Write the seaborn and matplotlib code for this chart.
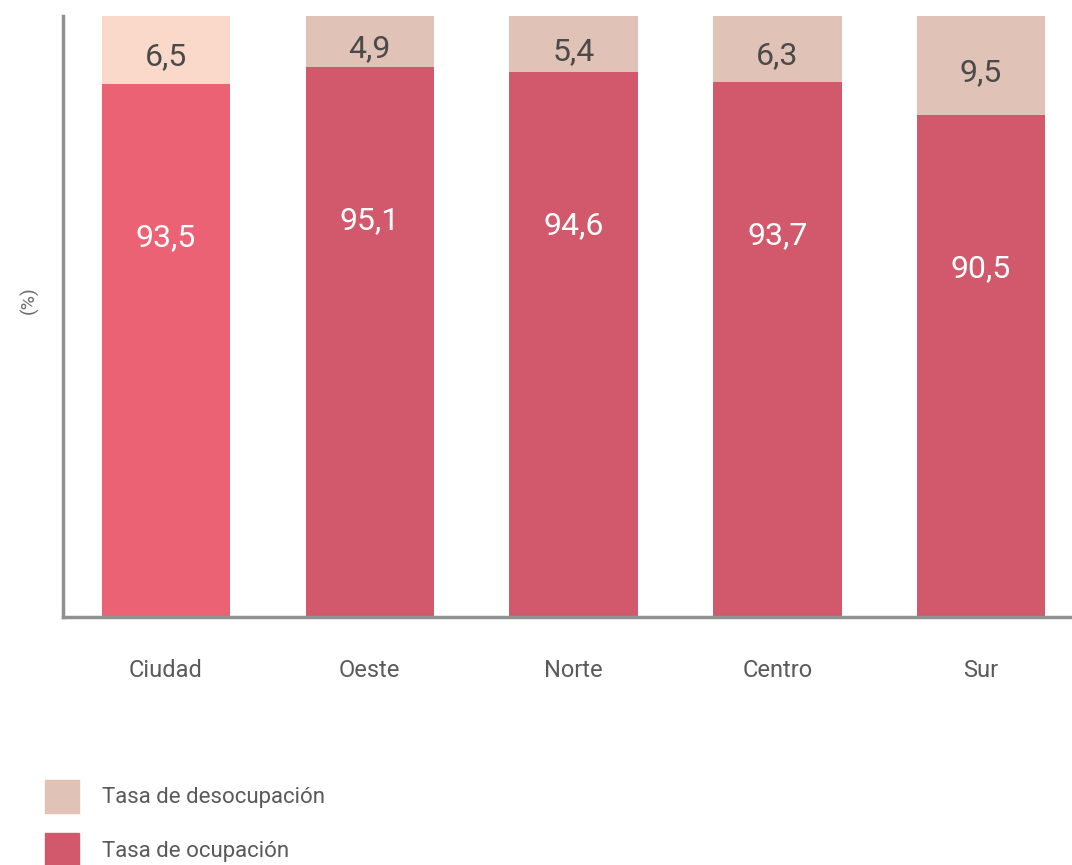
import numpy as np
import pandas as pd
import matplotlib
matplotlib.use("Agg")
import matplotlib.pyplot as plt
from matplotlib.patches import Patch
import seaborn as sns

regiones = ["Ciudad", "Oeste", "Norte", "Centro", "Sur"]
ocupacion = [93.5, 95.1, 94.6, 93.7, 90.5]
desocupacion = [6.5, 4.9, 5.4, 6.3, 9.5]

col_ocup = ["#ec6275", "#d2596b", "#d2596b", "#d2596b", "#d2596b"]
col_desoc = ["#fad9ca", "#e0c2b6", "#e0c2b6", "#e0c2b6", "#e0c2b6"]

sns.set_style("white")
plt.rcParams['font.family'] = ['Roboto', 'DejaVu Sans']

df = pd.DataFrame({"region": regiones, "ocup": ocupacion, "desoc": desocupacion})
df["total"] = df["ocup"] + df["desoc"]

fig = plt.figure(figsize=(10.72, 8.65), dpi=100)
ax = fig.add_axes([63 / 1072, 248 / 865, 1 - 63 / 1072, 601 / 865])

sns.barplot(data=df, x="region", y="total", hue="region", palette=col_desoc,
            width=0.63, saturation=1, legend=False, linewidth=0, ax=ax)
sns.barplot(data=df, x="region", y="ocup", hue="region", palette=col_ocup,
            width=0.63, saturation=1, legend=False, linewidth=0, ax=ax)

for i, (o, d) in enumerate(zip(ocupacion, desocupacion)):
    ax.text(i, o + d / 2 - 0.7, f"{d:.1f}".replace(".", ","), ha="center", va="center",
            fontsize=23, color="#4a4a4a")
    ax.text(i, o - 14.8, f"{o:.1f}".replace(".", ","), ha="center", va="center",
            fontsize=23, color="white")

ax.set_ylim(42.2, 100)
ax.set_xlim(-0.505, 4.446)
ax.set_yticks([])
ax.set_xlabel("")
ax.set_ylabel("(%)", fontsize=14, color="#6e6e6e")
ax.yaxis.set_label_coords(-24 / 1009, 0.527)
ax.tick_params(axis="x", length=0, pad=30, labelsize=17, labelcolor="#5a5a5a")
for s in ["top", "right"]:
    ax.spines[s].set_visible(False)
for s in ["left", "bottom"]:
    ax.spines[s].set_color("#8e9190")
    ax.spines[s].set_linewidth(2.5)

handles = [Patch(color="#e0c2b6", label="Tasa de desocupación"),
           Patch(color="#d2596b", label="Tasa de ocupación")]
fig.legend(handles=handles, loc="lower left", bbox_to_anchor=(45 / 1072, -0.002),
           frameon=False, fontsize=16, labelcolor="#5a5a5a", borderpad=0, borderaxespad=0,
           handlelength=1.55, handleheight=1.95, handletextpad=1.0, labelspacing=0.9)

fig.savefig("out.png", dpi=100)
